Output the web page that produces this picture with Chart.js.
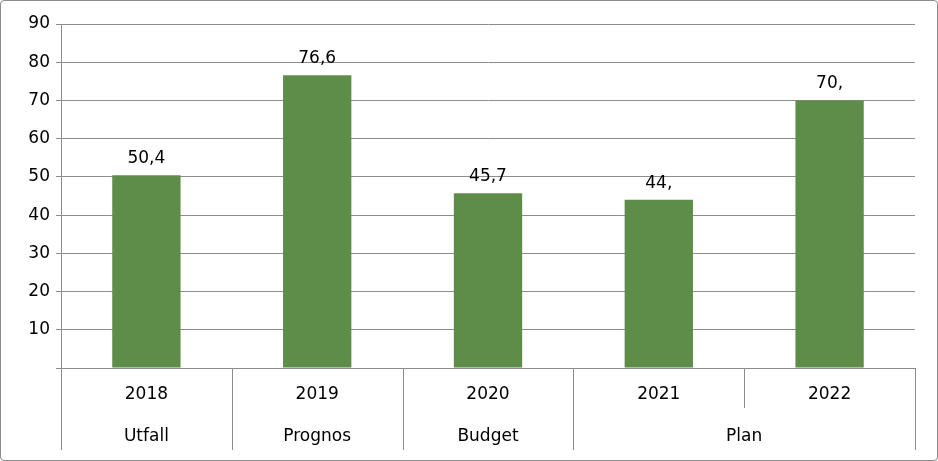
<!DOCTYPE html>
<html><head><meta charset="utf-8">
<script src="https://cdn.jsdelivr.net/npm/chart.js@4"></script>
<style>
html,body{margin:0;padding:0;background:#fff;}
#wrap{position:relative;width:936px;height:459px;border:1px solid #8c8c8c;border-radius:4px;overflow:hidden;}
</style></head><body>
<div id="wrap"><canvas id="c" width="936" height="459"></canvas></div>
<script>
const years = ["2018","2019","2020","2021","2022"];
const values = [50.4, 76.6, 45.7, 44, 70];
const valueLabels = ["50,4","76,6","45,7","44,","70,"];
const groups = [["Utfall",0,0],["Prognos",1,1],["Budget",2,2],["Plan",3,4]];
const yTicks = [10,20,30,40,50,60,70,80,90];
const FONT = "DejaVu Sans, Verdana, sans-serif";

const axisPlugin = {
  id:'axisPlugin',
  afterDraw(chart){
    const ctx = chart.ctx, a = chart.chartArea, x = chart.scales.x, y = chart.scales.y;
    const w = (a.right - a.left)/years.length;
    ctx.save();
    ctx.strokeStyle = '#8c8c8c'; ctx.lineWidth = 1;
    ctx.beginPath();
    ctx.moveTo(a.left, a.bottom+0.5); ctx.lineTo(a.right, a.bottom+0.5);
    for(let i=0;i<=years.length;i++){
      const xx = Math.round(a.left + i*w)+0.5;
      const full = (i!==4);
      ctx.moveTo(xx, a.bottom); ctx.lineTo(xx, full ? a.bottom+82 : a.bottom+40);
    }
    ctx.stroke();
    ctx.fillStyle = '#000'; ctx.font = '17px '+FONT;
    ctx.textAlign='center'; ctx.textBaseline='middle';
    years.forEach((yr,i)=>ctx.fillText(yr, a.left + (i+0.5)*w, a.bottom+27));
    groups.forEach(g=>{
      const cx = a.left + ((g[1]+g[2])/2+0.5)*w;
      ctx.fillText(g[0], cx, a.bottom+69);
    });
    ctx.textBaseline='bottom';
    const meta = chart.getDatasetMeta(0);
    meta.data.forEach((bar,i)=>ctx.fillText(valueLabels[i], bar.x, bar.y-8));
    ctx.restore();
  }
};

new Chart(document.getElementById('c'), {
  type:'bar',
  data:{labels:years, datasets:[{data:values, backgroundColor:'#5e8c49', barPercentage:0.8, categoryPercentage:0.5}]},
  options:{
    responsive:false, animation:false,
    layout:{padding:{left:0,top:23,right:22,bottom:92}},
    plugins:{legend:{display:false},tooltip:{enabled:false}},
    scales:{
      x:{display:false},
      y:{min:0,max:90,
        afterFit(s){s.width=60;},
        afterBuildTicks(s){s.ticks=[0].concat(yTicks).map(v=>({value:v}));},
        ticks:{color:'#000',font:{size:17,family:FONT},padding:6,callback:v=>v===0?'':v},
        grid:{color:'#8c8c8c',tickLength:5,drawTicks:true},
        border:{color:'#8c8c8c'}
      }
    }
  },
  plugins:[axisPlugin]
});
</script></body></html>
